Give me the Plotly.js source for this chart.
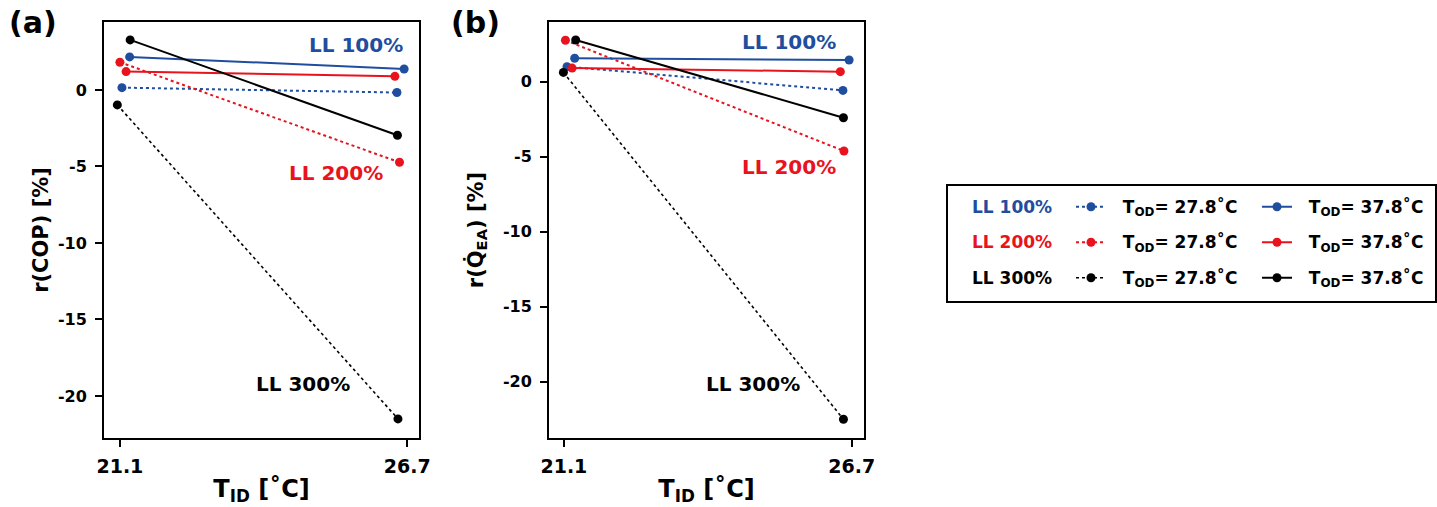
<!DOCTYPE html>
<html>
<head>
<meta charset="utf-8">
<script src="https://cdn.plot.ly/plotly-3.0.1.min.js"></script>
<style>html,body{margin:0;padding:0;background:#fff;}#chart{width:1437px;height:507px;}</style>
</head>
<body>
<div id="chart"></div>
<script>
// ---------- data ----------
const xTickVals = [21.1, 26.7];
const xTickText = ['21.1', '26.7'];
const yTickVals = [0, -5, -10, -15, -20];
const yTickText = ['0', '-5', '-10', '-15', '-20'];

const loadLevels = ['LL 100%', 'LL 200%', 'LL 300%'];
const outdoorLabels = ['T<sub>OD</sub>= 27.8˚C', 'T<sub>OD</sub>= 37.8˚C'];

// panel (a): r(COP) [%]
const copX_LL100_278 = [21.14, 26.50], copY_LL100_278 = [0.15, -0.17];
const copX_LL100_378 = [21.29, 26.64], copY_LL100_378 = [2.16, 1.37];
const copX_LL200_278 = [21.10, 26.55], copY_LL200_278 = [1.81, -4.73];
const copX_LL200_378 = [21.22, 26.46], copY_LL200_378 = [1.20, 0.89];
const copX_LL300_278 = [21.05, 26.52], copY_LL300_278 = [-0.98, -21.5];
const copX_LL300_378 = [21.30, 26.51], copY_LL300_378 = [3.27, -2.96];

// panel (b): r(Q_EA) [%]
const qX_LL100_278 = [21.16, 26.53], qY_LL100_278 = [1.00, -0.58];
const qX_LL100_378 = [21.31, 26.65], qY_LL100_378 = [1.56, 1.45];
const qX_LL200_278 = [21.13, 26.55], qY_LL200_278 = [2.76, -4.62];
const qX_LL200_378 = [21.26, 26.48], qY_LL200_378 = [0.91, 0.67];
const qX_LL300_278 = [21.09, 26.54], qY_LL300_278 = [0.62, -22.5];
const qX_LL300_378 = [21.33, 26.54], qY_LL300_378 = [2.78, -2.40];

// ---------- styles ----------
const FAM = 'DejaVu Sans';
const BLUE = '#1f4e9f', RED = '#e8131d', BLACK = '#000000';
const colors = [BLUE, RED, BLACK];
const W = 1437, H = 507;
const px = v => v / W, py = v => 1 - v / H;

function line(x, y, color, dotted, xa, ya, leg, group, lw) {
  return {
    type: 'scatter', mode: 'lines+markers', x: x, y: y, xaxis: xa, yaxis: ya,
    line: {color: color, width: lw || 2, dash: dotted ? 'dot' : 'solid'},
    marker: {color: color, size: 9},
    showlegend: !!leg, legendgroup: group, legendwidth: group === 'g1' ? 141 : 128,
    name: leg ? '<span style="font-size:17px;baseline-shift:4px">\u00a0\u00a0' + leg + '</span>' : '',
    hoverinfo: 'skip'
  };
}

const traces = [];
const aSets = [
  [copX_LL100_278, copY_LL100_278, copX_LL100_378, copY_LL100_378],
  [copX_LL200_278, copY_LL200_278, copX_LL200_378, copY_LL200_378],
  [copX_LL300_278, copY_LL300_278, copX_LL300_378, copY_LL300_378]
];
const bSets = [
  [qX_LL100_278, qY_LL100_278, qX_LL100_378, qY_LL100_378],
  [qX_LL200_278, qY_LL200_278, qX_LL200_378, qY_LL200_378],
  [qX_LL300_278, qY_LL300_278, qX_LL300_378, qY_LL300_378]
];
aSets.forEach((s, i) => traces.push(line(s[0], s[1], colors[i], true, 'x', 'y', outdoorLabels[0], 'g1', i === 2 ? 1.6 : 2)));
aSets.forEach((s, i) => traces.push(line(s[2], s[3], colors[i], false, 'x', 'y', outdoorLabels[1], 'g2')));
bSets.forEach((s, i) => traces.push(line(s[0], s[1], colors[i], true, 'x2', 'y2', null, 'g1', i === 2 ? 1.6 : 2)));
bSets.forEach((s, i) => traces.push(line(s[2], s[3], colors[i], false, 'x2', 'y2', null, 'g2')));

const xTickFont = {family: FAM, size: 19, color: '#000', weight: 'bold'};
const yTickFont = {family: FAM, size: 16, color: '#000', weight: 'bold'};
const xTitleFont = {family: FAM, size: 24, color: '#000', weight: 'bold'};
const yTitleFont = {family: FAM, size: 21, color: '#000', weight: 'bold'};
function xax(dom, range) {
  return {
    domain: dom, range: range, tickvals: xTickVals, ticktext: xTickText,
    showline: true, mirror: true, linecolor: '#000', linewidth: 2,
    ticks: 'outside', ticklen: 7, tickwidth: 2, tickcolor: '#000',
    showgrid: false, zeroline: false, tickfont: xTickFont, fixedrange: true, ticklabelstandoff: 3,
    title: {text: 'T<sub>ID</sub> [˚C]', font: xTitleFont, standoff: 4}
  };
}
function yax(anchor, range, title, standoff) {
  return {
    anchor: anchor, domain: [py(438), py(22)], range: range, tickvals: yTickVals, ticktext: yTickText,
    showline: true, mirror: true, linecolor: '#000', linewidth: 2,
    ticks: 'outside', ticklen: 7, tickwidth: 2, tickcolor: '#000',
    showgrid: false, zeroline: false, tickfont: yTickFont, fixedrange: true, ticklabelstandoff: 5,
    title: {text: title, font: yTitleFont, standoff: standoff}
  };
}

const annFont = (c, s) => ({family: FAM, size: s || 20, color: c, weight: 'bold'});
const ann = (text, x, y, c, s) => ({text: text, x: px(x), y: py(y), xref: 'paper', yref: 'paper',
  xanchor: 'center', yanchor: 'middle', showarrow: false, font: annFont(c, s)});

const annotations = [
  ann('(a)', 33, 22, '#000', 30),
  ann('(b)', 475, 22, '#000', 30),
  ann(loadLevels[0], 356, 45, BLUE),
  ann(loadLevels[1], 336, 173, RED),
  ann(loadLevels[2], 303, 384, BLACK),
  ann(loadLevels[0], 789, 42, BLUE),
  ann(loadLevels[1], 789, 167, RED),
  ann(loadLevels[2], 753, 384, BLACK)
];
// legend row labels
[206.7, 241.7, 278.3].forEach((yy, i) => annotations.push(ann(loadLevels[i], 1012, yy, colors[i], 17)));

const layout = {
  width: W, height: H, margin: {l: 0, r: 0, t: 0, b: 0},
  paper_bgcolor: '#fff', plot_bgcolor: '#fff',
  font: {family: FAM, color: '#000'},
  xaxis: xax([px(104), px(419)], [20.79, 26.93]),
  yaxis: yax('x', [-22.75, 4.44], 'r(COP) [%]', 4),
  xaxis2: Object.assign(xax([px(549), px(864)], [20.81, 26.94]), {anchor: 'y2'}),
  yaxis2: yax('x2', [-23.75, 3.98], 'r(Q\u0307<sub>EA</sub>) [%]', 14),
  showlegend: true,
  legend: {
    orientation: 'h', traceorder: 'grouped', x: px(1071), y: py(184), xanchor: 'left', yanchor: 'top',
    font: {family: FAM, size: 25, color: '#000', weight: 'bold'}, bgcolor: 'rgba(0,0,0,0)', borderwidth: 0,
    tracegroupgap: 0, itemclick: false, itemdoubleclick: false
  },
  annotations: annotations,
  shapes: [{type: 'rect', xref: 'paper', yref: 'paper', x0: px(947), x1: px(1436), y0: py(302), y1: py(185),
    line: {color: '#000', width: 2}, fillcolor: 'rgba(0,0,0,0)'}]
};

Plotly.newPlot('chart', traces, layout, {displayModeBar: false, staticPlot: true});
</script>
</body>
</html>
